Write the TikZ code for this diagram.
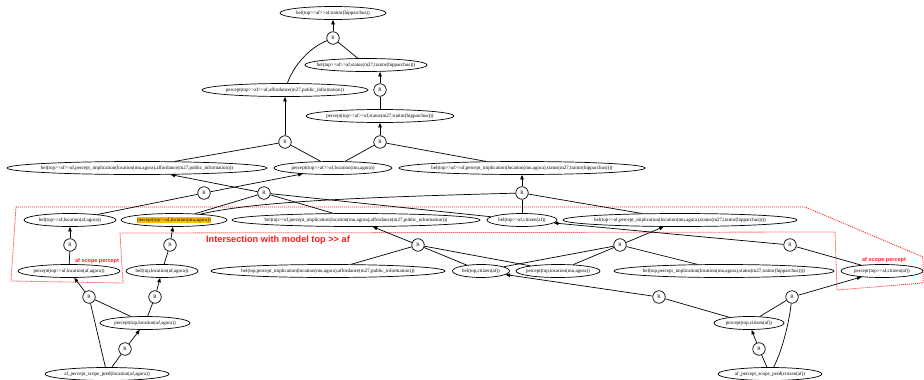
\documentclass[tikz,border=0pt]{standalone}
\usepackage{fontspec}
\setmainfont{Liberation Serif}
\newfontfamily\labelfont{Liberation Sans}
\usetikzlibrary{shapes.geometric,arrows.meta}
\definecolor{hlamber}{HTML}{FFC000}
\definecolor{scopered}{HTML}{FF1A1A}
% nested-model operator, kept as two separate glyphs
\newcommand\nestop{>{}>}

\begin{document}
\begin{tikzpicture}[x=1pt,y=-1pt,
  fact/.style={draw, ellipse, line width=0.7pt, inner xsep=-6pt, inner ysep=0pt,
    minimum height=13pt, font=\fontsize{5}{6}\selectfont},
  rule/.style={draw, circle, line width=0.7pt, minimum size=12.5pt, inner sep=0pt,
    font=\fontsize{5}{6}\selectfont},
  link/.style={line width=0.7pt},
  derive/.style={line width=0.7pt, -{Triangle[length=4.5pt,width=3.5pt]}},
  scope/.style={draw=scopered, line width=0.8pt, dash pattern=on 1pt off 1pt},
  scopelabel/.style={text=scopered, inner sep=0pt,
    font=\labelfont\bfseries\fontsize{5.5}{6}\selectfont},
  biglabel/.style={text=scopered, inner sep=0pt,
    font=\labelfont\bfseries\fontsize{9.2}{10}\selectfont},
]
\useasboundingbox (0,0) rectangle (924,380);

% scope outline of the top >> af model
\draw[scope] (16,207) -- (805,207) -- (923,257) -- (923,283) -- (837,290)
  -- (835,232) -- (120,233) -- (123,283) -- (11,281) -- cycle;
\node[scopelabel] (lblleft) at (97,261) {af scope percept};
\node[scopelabel] (lblright) at (884,260) {af scope percept};
\node[biglabel] (lblmodel) at (278,240) {Intersection with model top \nestop{} af};

% facts
\node[fact, minimum width=106pt] (n1) at (333,13) {bel(top\nestop af\nestop af,traitor(hipparchus))};
\node[fact, minimum width=117pt] (n2) at (366,65) {bel(top\nestop af\nestop af,status(m27,traitor(hipparchus)))};
\node[fact, minimum width=166pt] (n3) at (285,90) {percept(top\nestop af\nestop af,affordance(m27,public\_information))};
\node[fact, minimum width=148pt] (n4) at (380,116) {percept(top\nestop af\nestop af,status(m27,traitor(hipparchus)))};
\node[fact, minimum width=260pt] (n5) at (137,168) {bel(top\nestop af\nestop af,percept\_implication(location(mu,agora),affordance(m27,public\_information)))};
\node[fact, minimum width=118pt] (n6) at (333,168) {percept(top\nestop af\nestop af,location(mu,agora))};
\node[fact, minimum width=246pt] (n7) at (522,168) {bel(top\nestop af\nestop af,percept\_implication(location(mu,agora),status(m27,traitor(hipparchus))))};
\node[fact, minimum width=92pt] (n8) at (70,220) {bel(top\nestop af,location(af,agora))};
\node[fact, minimum width=106pt] (n9) at (174,220) {{\setlength{\fboxsep}{0.6pt}\colorbox{hlamber}{percept(top\nestop af,location(mu,agora))}}};
\node[fact, minimum width=248pt] (n10) at (356,220) {bel(top\nestop af,percept\_implication(location(mu,agora),affordance(m27,public\_information)))};
\node[fact, minimum width=70pt] (n11) at (522,220) {bel(top\nestop af,citizen(af))};
\node[fact, minimum width=234pt] (n12) at (680,220) {bel(top\nestop af,percept\_implication(location(mu,agora),status(m27,traitor(hipparchus))))};
\node[fact, minimum width=102pt] (n13) at (69,271) {percept(top\nestop af,location(af,agora))};
\node[fact, minimum width=72pt] (n14) at (162,271) {bel(top,location(af,agora))};
\node[fact, minimum width=234pt] (n15) at (328,271) {bel(top,percept\_implication(location(mu,agora),affordance(m27,public\_information)))};
\node[fact, minimum width=57pt] (n16) at (481,271) {bel(top,citizen(af))};
\node[fact, minimum width=84pt] (n17) at (558,271) {percept(top,location(mu,agora))};
\node[fact, minimum width=220pt] (n18) at (724,271) {bel(top,percept\_implication(location(mu,agora),status(m27,traitor(hipparchus))))};
\node[fact, minimum width=82pt] (n19) at (882,271) {percept(top\nestop af,citizen(af))};
\node[fact, minimum width=90pt] (n20) at (145,323) {percept(top,location(af,agora))};
\node[fact, minimum width=70pt] (n21) at (749,323) {percept(top,citizen(af))};
\node[fact, minimum width=124pt] (n22) at (107,374) {af\_percept\_scope\_pred(location(af,agora))};
\node[fact, minimum width=104pt] (n23) at (770,374) {af\_percept\_scope\_pred(citizen(af))};

% rule applications
\node[rule] (r1) at (333,38) {R};
\node[rule] (r2) at (380,90) {R};
\node[rule] (r3) at (285,142) {R};
\node[rule] (r3b) at (380,142) {R};
\node[rule] (r4) at (204,193) {R};
\node[rule] (r5) at (264,193) {R};
\node[rule] (r6) at (522,193) {R};
\node[rule] (r7) at (70,245) {R};
\node[rule] (r8) at (170,245) {R};
\node[rule] (r9) at (418,245) {R};
\node[rule] (r10) at (620,245) {R};
\node[rule] (r11) at (790,245) {R};
\node[rule] (r12) at (89,297) {R};
\node[rule] (r13) at (155,297) {R};
\node[rule] (r14) at (659,297) {R};
\node[rule] (r15) at (792,297) {R};
\node[rule] (r16) at (125,349) {R};
\node[rule] (r17) at (759,349) {R};

% top layers
\draw[derive] (r1) -- (n1);
\draw[link] (r1) .. controls (305,50) and (292,70) .. (n3);
\draw[link] (r1) -- (n2);
\draw[derive] (r2) -- (r2 |- n2.south);
\draw[link] (r2) -- (n4);
\draw[derive] (r3) -- (n3);
\draw[link] (r3) -- (n5);
\draw[link] (r3) -- (n6);
\draw[derive] (r3b) -- (n4);
\draw[link] (r3b) -- (n6);
\draw[link] (r3b) -- (n7);

% middle layer
\draw[derive] (r4) -- (n6);
\draw[link] (r4) -- (n8);
\draw[derive] (r5) -- (n5);
\draw[link] (r5) -- (n9);
\draw[link] (r5) -- (n10);
\draw[link] (r5) -- (n11);
\draw[derive] (r6) -- (n7);
\draw[link] (r6) -- (n11);
\draw[link] (r6) -- (n12);
\draw[link] (n9) .. controls (250,203) and (330,198) .. (r6);

% lower layers
\draw[derive] (r7) -- (n8);
\draw[link] (r7) -- (n13);
\draw[derive] (r8) -- (n9);
\draw[link] (r8) -- (n14);
\draw[derive] (r9) -- (n10);
\draw[link] (r9) -- (n15);
\draw[link] (r9) -- (n16);
\draw[link] (r9) -- (n17);
\draw[derive] (r10) -- (n12);
\draw[link] (r10) -- (n16);
\draw[link] (r10) -- (n17);
\draw[link] (r10) -- (n18);
\draw[derive] (r11) -- (n11);
\draw[link] (r11) -- (n19);
\draw[derive] (r12) -- (n13);
\draw[link] (r12) -- (n20);
\draw[link] (r12) -- (n22);
\draw[derive] (r13) -- (n14);
\draw[link] (r13) -- (n20);
\draw[derive] (r14) -- (n16);
\draw[link] (r14) -- (n21);
\draw[derive] (r15) -- (n19);
\draw[link] (r15) -- (n21);
\draw[link] (r15) .. controls (788,330) and (780,355) .. (n23);
\draw[derive] (r16) -- (n20);
\draw[link] (r16) -- (n22);
\draw[derive] (r17) -- (n21);
\draw[link] (r17) -- (n23);
\end{tikzpicture}
\end{document}
